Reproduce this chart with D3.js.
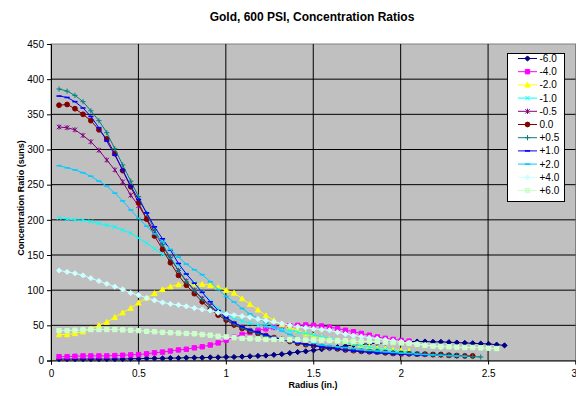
<!DOCTYPE html>
<html>
<head>
<meta charset="utf-8">
<script src="https://cdn.jsdelivr.net/npm/d3@7"></script>
<style>
  body { margin: 0; background: #fff; }
  svg { display: block; font-family: Arial, "Liberation Sans", sans-serif; }
</style>
</head>
<body>
<script>
// Radius sample positions (in.)
const radius = [
  0.046, 0.092, 0.137, 0.183, 0.228, 0.274, 0.319, 0.365, 0.410, 0.456,
  0.501, 0.547, 0.592, 0.638, 0.683, 0.729, 0.774, 0.820, 0.865, 0.911,
  0.956, 1.002, 1.047, 1.093, 1.138, 1.184, 1.229, 1.275, 1.320, 1.366,
  1.411, 1.457, 1.502, 1.548, 1.593, 1.639, 1.684, 1.730, 1.775, 1.821,
  1.866, 1.912, 1.957, 2.003, 2.048, 2.094, 2.139, 2.185, 2.230, 2.276,
  2.321, 2.367, 2.412, 2.458, 2.503, 2.549, 2.594
];

const labels = ["-6.0", "-4.0", "-2.0", "-1.0", "-0.5", "0.0", "+0.5", "+1.0", "+2.0", "+4.0", "+6.0"];

// Concentration ratio (suns), one array per offset
const sNeg60 = [2, 2, 2, 2, 2, 2, 2, 2, 2, 2.5, 2.5, 3, 3, 3, 3.5, 3.5, 4, 4, 4, 4.5,
  4.5, 5, 5, 5.5, 6, 6.5, 7, 8, 9, 10.5, 12, 13, 14.5, 16, 17.5, 19, 20.5, 22, 23, 24,
  24.5, 25.5, 26, 26.5, 27, 27, 27, 26.5, 26.5, 26, 25.5, 25, 24.5, 24, 23.5, 22.5, 21.5];
const sNeg40 = [5.5, 5.5, 6, 6.5, 6.5, 6.5, 6.5, 7, 7.5, 8, 8.5, 9.5, 11, 12, 13.5, 15, 16, 18, 19.5, 22,
  25, 29, 33, 37, 40, 43, 45, 47, 48.5, 49.5, 50, 50.5, 50, 49, 47.5, 45.5, 43, 41, 38.5, 36,
  33.5, 31.5, 30, 28.5, 27.5];
const sNeg20 = [37, 37, 38.5, 41, 45, 50, 54.5, 61.5, 68, 74.5, 82, 89, 95.5, 101, 105, 108, 109, 109, 108.5, 107,
  104, 100, 96, 88, 80, 72, 64, 57, 51, 47, 43, 38, 35, 32, 30, 28.5, 27, 25, 22, 19.5,
  17.5, 16, 15, 14.5, 13.5];
const sNeg10 = [203, 201, 200, 199.5, 197.5, 195, 192.5, 190, 185.5, 181, 174, 167, 159, 151, 145, 136, 123, 110, 97, 85,
  74, 66, 60, 56, 53, 50.5, 48.5, 46.5, 44.5, 42.5, 40.5, 38.5, 36, 33.5, 31, 28.5, 26, 23.5, 21, 19,
  17, 15.5, 14, 13, 12, 11, 10, 9.5, 9, 8.5, 8];
const sNeg05 = [332, 331, 328, 320, 311, 299, 285, 271, 254, 235, 220, 202, 183, 163, 145, 128, 113, 100, 88, 78,
  68, 60, 53, 47.5, 43, 39.5, 36, 33, 30.5, 28, 25.5, 23.5, 21.5, 20, 18.5, 17, 15.5, 14.5, 13.5, 12.5,
  12, 11, 10.5, 10, 9.5, 9, 8.5, 8, 7.5, 7, 6.5];
const s00 = [363, 364, 358, 350, 341, 328, 315, 294, 270, 247, 224, 201, 177, 158, 139, 121, 107, 95, 83.5, 73,
  64.5, 57.5, 50.5, 45.5, 41.5, 38.5, 35, 32, 29.5, 27, 24.5, 22.5, 21, 19.5, 18, 16.5, 15, 14, 13, 12.5,
  12, 11, 10, 9.5, 9.5, 9, 9, 8.5, 8.5, 7.5, 7, 6.5, 6.5];
const sPos05 = [386, 383, 377, 368, 355, 341, 324, 301, 278, 255, 233, 209, 186, 165, 146, 128, 112, 99, 87, 76,
  67, 59, 52, 46.5, 42, 38.5, 35, 32, 29.5, 27, 24.5, 22.5, 21, 19, 17.5, 16, 15, 14, 13, 12,
  11.5, 11, 10.5, 10, 9.5, 9, 8.5, 8, 7.5, 7, 6.5, 6, 5.5, 5];
const sPos10 = [376, 374, 368, 359, 347, 331, 312, 292, 271, 248, 229, 210, 190, 173, 157, 138, 123, 110, 97, 83.5,
  71, 61, 54, 48, 43.5, 40, 36.5, 33, 30, 27.5, 25, 23, 21, 19, 17.5, 16, 14.5, 13.5, 12.5, 11.5,
  10.5, 10, 9.5, 9, 8.5, 8, 7.5];
const sPos20 = [277, 274, 271, 267, 262, 255, 248, 238, 227, 214, 202, 191, 180, 169, 158, 147, 137, 129, 122, 112,
  101, 91, 83, 74, 66, 60, 54, 48, 42, 37, 32, 28, 25, 22, 21, 19.5, 18.5, 17, 15.5, 14.5,
  13.5, 12.5, 11.5, 10.5, 10, 9, 8.5, 8, 7.5, 7, 6.5, 6];
const sPos40 = [128, 126, 124, 121, 117, 113, 109, 105, 101, 96, 93, 89, 85.5, 82.5, 80.5, 79, 77, 74.5, 72.5, 71,
  68, 66, 64.5, 63, 61.5, 59, 57, 55, 52.5, 50, 48, 46.5, 45, 44, 43, 40, 37.5, 35.5, 34, 32.5,
  31, 29.5, 28, 26.5, 25, 23.5, 22, 20.5, 19];
const sPos60 = [42.5, 42.5, 43, 43.5, 44, 44, 44, 44, 43.5, 43, 42.5, 41.5, 41, 40, 39.5, 39, 38.5, 38, 37, 36,
  34.5, 33.5, 32.5, 31.5, 31, 30.5, 30, 30, 29.5, 29.5, 29.5, 29, 29, 29, 28.5, 28, 28, 27.5, 27, 27,
  26.5, 26, 25.5, 25, 24.5, 23, 21.5, 20.5, 20, 19.5, 19, 18.5, 18.5, 18, 17.5, 17];

const xTicks = [0, 0.5, 1, 1.5, 2, 2.5, 3];
const xTickLabels = ["0", "0.5", "1", "1.5", "2", "2.5", "3"];
const yTicks = [0, 50, 100, 150, 200, 250, 300, 350, 400, 450];

const allSeries = [sNeg60, sNeg40, sNeg20, sNeg10, sNeg05, s00, sPos05, sPos10, sPos20, sPos40, sPos60];

// Excel-like series styles
const colors = ["#000080", "#FF00FF", "#FFFF00", "#00FFFF", "#800080", "#800000",
  "#008080", "#0000FF", "#00CCFF", "#CCFFFF", "#CCFFCC"];
const markerTypes = ["diamond", "square", "triangle", "x", "star", "circle",
  "plus", "dash", "dash", "diamond", "square"];

const markerPaths = {
  diamond: "M0,-2.6L2.6,0L0,2.6L-2.6,0Z",
  square: "M-2.2,-2.2H2.2V2.2H-2.2Z",
  triangle: "M0,-2.7L2.6,2.2H-2.6Z",
  circle: "M2.4,0A2.4,2.4 0 1,1 -2.4,0A2.4,2.4 0 1,1 2.4,0Z",
  x: "M-2.2,-2.2L2.2,2.2M-2.2,2.2L2.2,-2.2",
  star: "M-2.2,-2.2L2.2,2.2M-2.2,2.2L2.2,-2.2M0,-2.6V2.6",
  plus: "M-2.6,0H2.6M0,-2.6V2.6",
  dash: "M-2.6,0H2.6"
};
const filled = t => t === "diamond" || t === "square" || t === "triangle" || t === "circle";

const width = 576;
const height = 396;
const plot = { left: 51, right: 575.5, top: 44, bottom: 360.5 };

const x = d3.scaleLinear().domain([0, 3]).range([plot.left, plot.right]);
const y = d3.scaleLinear().domain([0, 450]).range([plot.bottom, plot.top]);

const svg = d3.select("body")
  .append("svg")
  .attr("width", width)
  .attr("height", height)
  .attr("viewBox", [0, 0, width, height]);

// Plot area background
svg.append("rect")
  .attr("x", plot.left)
  .attr("y", plot.top)
  .attr("width", plot.right - plot.left)
  .attr("height", plot.bottom - plot.top)
  .attr("fill", "#C0C0C0")
  .attr("stroke", "#808080")
  .attr("stroke-width", 1);

// Gridlines
svg.append("g")
  .attr("stroke", "#000")
  .attr("stroke-width", 1)
  .selectAll("line")
  .data(yTicks.slice(1, -1))
  .join("line")
  .attr("x1", plot.left)
  .attr("x2", plot.right)
  .attr("y1", d => y(d))
  .attr("y2", d => y(d));

svg.append("g")
  .attr("stroke", "#000")
  .attr("stroke-width", 1)
  .selectAll("line")
  .data(xTicks.slice(1, -1))
  .join("line")
  .attr("x1", d => x(d))
  .attr("x2", d => x(d))
  .attr("y1", plot.top)
  .attr("y2", plot.bottom);

// Axes
const yAxis = svg.append("g")
  .attr("transform", `translate(${plot.left},0)`)
  .call(d3.axisLeft(y).tickValues(yTicks).tickSize(4).tickPadding(3).tickFormat(d3.format("d")));
const xAxis = svg.append("g")
  .attr("transform", `translate(0,${plot.bottom})`)
  .call(d3.axisBottom(x).tickValues(xTicks).tickSize(4).tickPadding(5).tickFormat((d, i) => xTickLabels[i]));

[yAxis, xAxis].forEach(g => {
  g.select(".domain").attr("stroke", "#000");
  g.selectAll(".tick line").attr("stroke", "#000");
  g.selectAll("text")
    .attr("fill", "#000")
    .attr("font-size", 10)
    .attr("font-family", "Arial, 'Liberation Sans', sans-serif");
});

// last x label sits against the right edge, as in the original
xAxis.selectAll(".tick:last-of-type text")
  .attr("text-anchor", "end")
  .attr("x", 1);

// Series lines and markers
const line = d3.line()
  .x((d, i) => x(radius[i]))
  .y(d => y(d));

allSeries.forEach((values, k) => {
  const g = svg.append("g");
  g.append("path")
    .datum(values)
    .attr("fill", "none")
    .attr("stroke", colors[k])
    .attr("stroke-width", 1)
    .attr("d", line);

  g.selectAll("path.marker")
    .data(values)
    .join("path")
    .attr("class", "marker")
    .attr("transform", (d, i) => `translate(${x(radius[i])},${y(d)})`)
    .attr("d", markerPaths[markerTypes[k]])
    .attr("fill", filled(markerTypes[k]) ? colors[k] : "none")
    .attr("stroke", colors[k])
    .attr("stroke-width", markerTypes[k] === "dash" ? 1.6 : 1);
});

// Legend
const legend = svg.append("g");
legend.append("rect")
  .attr("x", 507.5)
  .attr("y", 53.5)
  .attr("width", 57)
  .attr("height", 148)
  .attr("fill", "#fff")
  .attr("stroke", "#000")
  .attr("stroke-width", 1);

const items = legend.selectAll("g.item")
  .data(labels)
  .join("g")
  .attr("class", "item")
  .attr("transform", (d, i) => `translate(0,${58.5 + i * 13.2})`);

items.append("line")
  .attr("x1", 518)
  .attr("x2", 537)
  .attr("stroke", (d, i) => colors[i])
  .attr("stroke-width", 1);

items.append("path")
  .attr("transform", "translate(527.5,0)")
  .attr("d", (d, i) => markerPaths[markerTypes[i]])
  .attr("fill", (d, i) => filled(markerTypes[i]) ? colors[i] : "none")
  .attr("stroke", (d, i) => colors[i])
  .attr("stroke-width", (d, i) => markerTypes[i] === "dash" ? 1.6 : 1);

items.append("text")
  .attr("x", 539.5)
  .attr("dy", "0.35em")
  .attr("font-size", 10)
  .attr("fill", "#000")
  .text(d => d);

// Titles
svg.append("text")
  .attr("x", 312)
  .attr("y", 21)
  .attr("text-anchor", "middle")
  .attr("font-size", 12)
  .attr("font-weight", "bold")
  .text("Gold, 600 PSI, Concentration Ratios");

svg.append("text")
  .attr("x", 313)
  .attr("y", 388)
  .attr("text-anchor", "middle")
  .attr("font-size", 9)
  .attr("font-weight", "bold")
  .text("Radius (in.)");

svg.append("text")
  .attr("transform", "translate(24,198) rotate(-90)")
  .attr("text-anchor", "middle")
  .attr("font-size", 9)
  .attr("font-weight", "bold")
  .text("Concentration Ratio (suns)");
</script>
</body>
</html>
